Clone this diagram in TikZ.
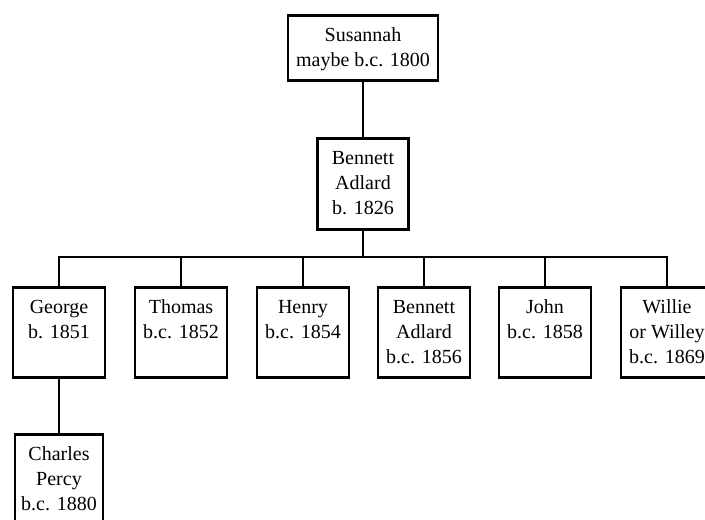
\documentclass[tikz,border=0pt]{standalone}
\usepackage{fontspec}
\setmainfont{Liberation Serif}
\newcommand\boxtext[3]{\parbox[c][#2pt][t]{#1pt}{\centering\rule{0pt}{26pt}#3}}
\begin{document}
\begin{tikzpicture}[x=1pt,y=-1pt,
  person/.style={draw, line width=2.8pt, inner sep=0pt, anchor=north,
    font=\fontsize{20}{25}\selectfont},
  link/.style={line width=2.8pt, line join=miter}]
\useasboundingbox (0,0) rectangle (705,520);
\clip (0,0) rectangle (705,520);
\node[person] (sus) at (363,14) {\boxtext{150}{65}{Susannah\\maybe b.c. 1800}};
\node[person] (ben) at (363,137) {\boxtext{91}{91}{Bennett\\Adlard\\b. 1826}};
\node[person] (c1) at (59,286) {\boxtext{92}{90}{George\\b. 1851}};
\node[person] (c2) at (181,286) {\boxtext{92}{90}{Thomas\\b.c. 1852}};
\node[person] (c3) at (303,286) {\boxtext{92}{90}{Henry\\b.c. 1854}};
\node[person] (c4) at (424,286) {\boxtext{92}{90}{Bennett\\Adlard\\b.c. 1856}};
\node[person] (c5) at (545,286) {\boxtext{92}{90}{John\\b.c. 1858}};
\node[person] (c6) at (667,286) {\boxtext{92}{90}{Willie\\or Willey\\b.c. 1869}};
\node[person] (cp) at (59,433) {\boxtext{88}{100}{Charles\\Percy\\b.c. 1880}};
\coordinate (bus) at (363,257);
\draw[link] (sus.south) -- (ben.north);
\draw[link] (ben.south) -- (ben.south |- bus);
\draw[link] (c1.north) -- (c1.north |- bus) -- (c6.north |- bus) -- (c6.north);
\foreach \c in {c2,c3,c4,c5} \draw[link] (\c.north) -- (\c.north |- bus);
\draw[link] (c1.south) -- (cp.north);
\end{tikzpicture}
\end{document}
